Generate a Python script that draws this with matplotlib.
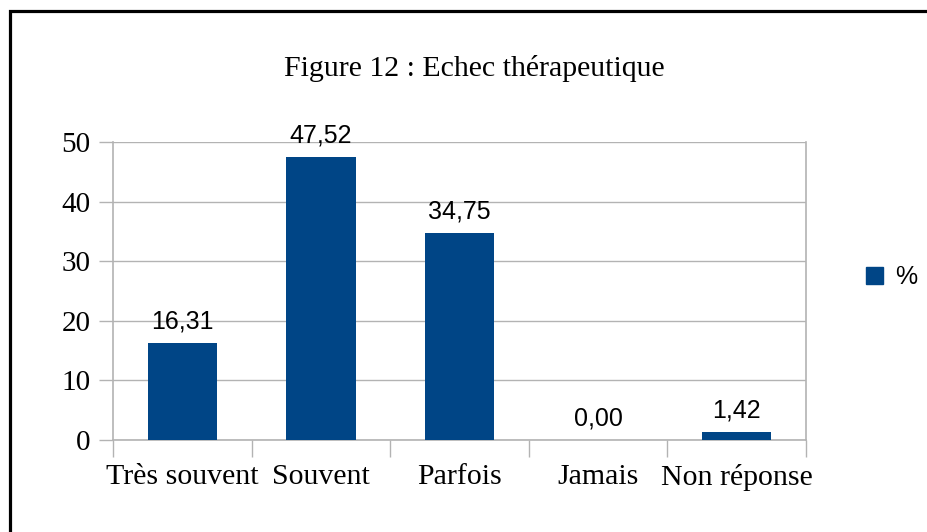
import matplotlib
matplotlib.use("Agg")
import matplotlib.pyplot as plt
from matplotlib.patches import Rectangle, Patch

categories = ["Très souvent", "Souvent", "Parfois", "Jamais", "Non réponse"]
values = [16.31, 47.52, 34.75, 0.00, 1.42]
series_name = "%"
title = "Figure 12 : Echec thérapeutique"

bar_color = "#004586"
grid_color = "#b3b3b3"
serif = ["Liberation Serif", "DejaVu Serif"]
sans = ["Liberation Sans", "DejaVu Sans"]

W, H = 927, 532
fig = plt.figure(figsize=(W / 100, H / 100), dpi=100)
ax = fig.add_axes([113 / W, 1 - 440 / H, (806 - 113) / W, (440 - 142) / H])

x = list(range(len(categories)))
ax.bar(x, values, width=0.5, color=bar_color, zorder=3)
for xi, v in zip(x, values):
    ax.text(xi, v + 1.6, f"{v:.2f}".replace(".", ","), ha="center", va="bottom",
            family=sans, fontsize=18, zorder=4)

ax.set_xlim(-0.5, len(categories) - 0.5)
ax.set_ylim(0, 50)
ax.set_yticks(range(0, 51, 10))
ax.set_yticklabels([str(t) for t in range(0, 51, 10)], family=serif, fontsize=21)
ax.set_xticks([i - 0.5 for i in range(len(categories) + 1)])
ax.set_xticklabels([])
ax.set_xticks(x, minor=True)
ax.set_xticklabels(categories, minor=True, family=serif, fontsize=21.5)
ax.tick_params(axis="x", which="major", length=12, color=grid_color, width=1)
ax.tick_params(axis="x", which="minor", length=0, pad=17)
ax.tick_params(axis="y", length=10, color=grid_color, width=1, pad=6)
ax.grid(axis="y", color=grid_color, linewidth=1, zorder=0)
ax.spines["top"].set_visible(False)
for s in ["left", "right", "bottom"]:
    ax.spines[s].set_color(grid_color)
    ax.spines[s].set_linewidth(1.2)

fig.text(474 / W, 1 - 69 / H, title, ha="center", va="center", family=serif, fontsize=21.5)

handle = Patch(facecolor=bar_color, edgecolor=bar_color)
fig.legend([handle], [series_name], loc="center left", frameon=False,
           bbox_to_anchor=(843 / W, 1 - 277 / H), handlelength=0.7, handleheight=0.7,
           handletextpad=0.5, prop={"family": sans, "size": 18})

fig.add_artist(Rectangle((9.5 / W, -0.1), 2, 1.1 - 11 / H, transform=fig.transFigure,
                         fill=False, edgecolor="black", linewidth=2.3))

fig.savefig("out.png", dpi=100)
